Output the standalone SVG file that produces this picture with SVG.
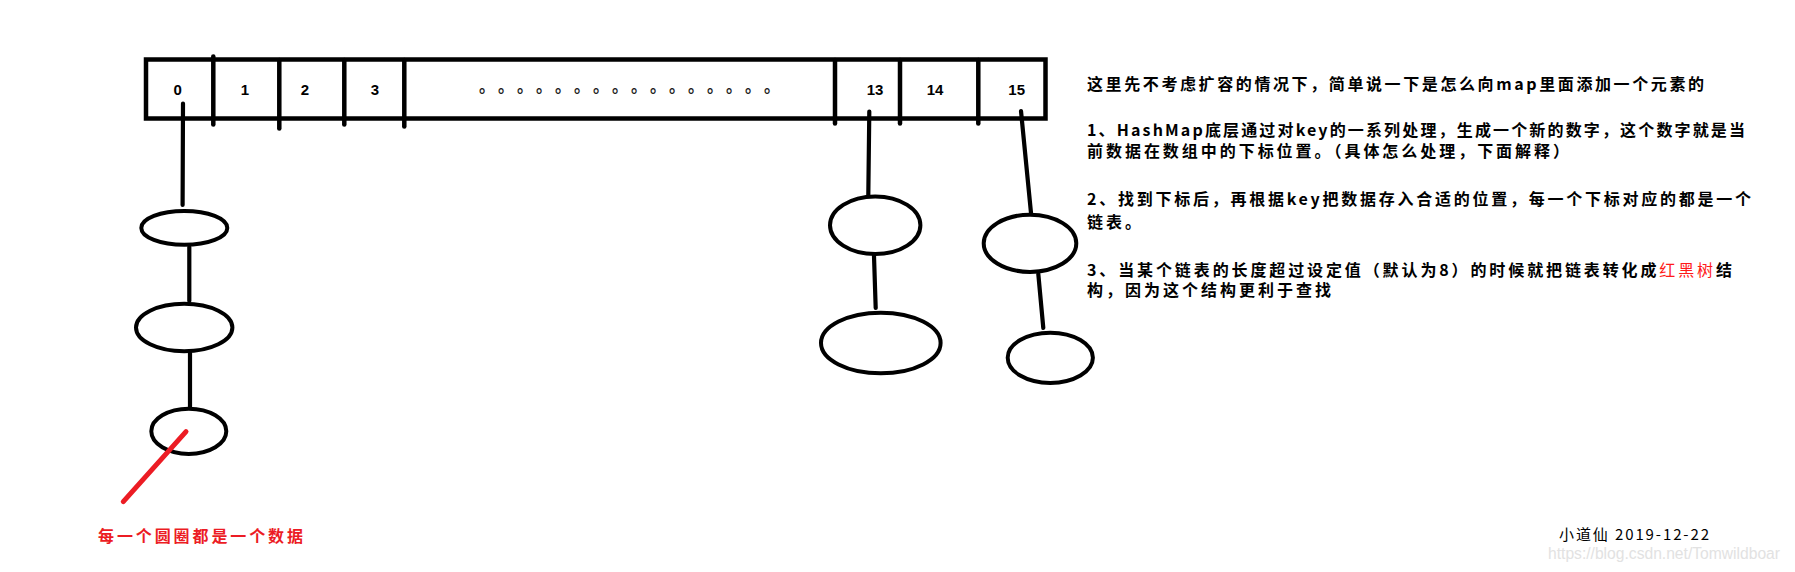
<svg xmlns="http://www.w3.org/2000/svg" width="1795" height="572" viewBox="0 0 1795 572">
<style>
.bx{fill:#fff;stroke:#000;stroke-width:4.5}
.dv{stroke:#000;stroke-width:4.5;stroke-linecap:round;fill:none}
.ln{stroke:#000;stroke-width:4.2;stroke-linecap:round;fill:none}
.el{fill:none;stroke:#000;stroke-width:4}
.num{font-family:"Liberation Sans",Arial,sans-serif;font-weight:bold;font-size:15px;fill:#000;text-anchor:middle}
.cn{font-family:"Noto Sans CJK SC","Noto Sans",sans-serif;font-weight:bold;font-size:16px;fill:#000}
.red{fill:#ff1a1a;font-weight:normal}
.note{font-family:"Noto Sans CJK SC","Noto Sans",sans-serif;font-weight:bold;font-size:16px;fill:#ec1c24}
.sig{font-family:"Noto Sans CJK SC","Noto Sans",sans-serif;font-size:15px;fill:#000}
.wm{font-family:"Liberation Sans",Arial,sans-serif;font-size:16px;fill:#e2e2e2}
.dots{font-family:"Noto Sans CJK SC",sans-serif;font-weight:bold;font-size:16px;fill:#222}
</style>
<rect width="1795" height="572" fill="#fff"/>
<g id="array">
  <rect class="bx" x="146" y="59.5" width="899.5" height="59"/>
  <line class="dv" x1="213.3" y1="56.5" x2="213.3" y2="124.5"/>
  <line class="dv" x1="279.3" y1="60" x2="279.3" y2="128.5"/>
  <line class="dv" x1="344.3" y1="60" x2="344.3" y2="124.5"/>
  <line class="dv" x1="404.3" y1="60" x2="404.3" y2="126.5"/>
  <line class="dv" x1="835" y1="60" x2="835" y2="123.5"/>
  <line class="dv" x1="900" y1="60" x2="900" y2="123.5"/>
  <line class="dv" x1="978.3" y1="60" x2="978.3" y2="123.5"/>
  <text class="num" x="177.7" y="94.5">0</text>
  <text class="num" x="245" y="94.5">1</text>
  <text class="num" x="305" y="94.5">2</text>
  <text class="num" x="375" y="94.5">3</text>
  <text class="dots" x="479.1 498.1 517.1 536.1 555.1 574.1 593.1 612.1 631.1 650.1 669.1 688.1 707.1 726.1 745.1 764.1" y="92">。。。。。。。。。。。。。。。。</text>
  <text class="num" x="875" y="94.5">13</text>
  <text class="num" x="935" y="94.5">14</text>
  <text class="num" x="1016.7" y="94.5">15</text>
</g>
<g id="node-0-1"><ellipse class="el" cx="184.3" cy="227.9" rx="43" ry="16.9"/></g>
<g id="node-0-2"><ellipse class="el" cx="184.2" cy="327.5" rx="48.2" ry="23.8"/></g>
<g id="node-0-3"><ellipse class="el" cx="188.8" cy="431.3" rx="37.5" ry="22.6"/></g>
<g id="node-13-1"><ellipse class="el" cx="875.2" cy="225.2" rx="45.2" ry="28.8"/></g>
<g id="node-13-2"><ellipse class="el" cx="880.8" cy="343" rx="59.8" ry="30.3"/></g>
<g id="node-15-1"><ellipse class="el" cx="1030" cy="243.3" rx="46.3" ry="28.6"/></g>
<g id="node-15-2"><ellipse class="el" cx="1050.3" cy="357.8" rx="42.6" ry="25.1"/></g>
<g id="connectors">
  <line class="ln" x1="183" y1="103.5" x2="182.6" y2="205"/>
  <line class="ln" x1="189.3" y1="247" x2="189.3" y2="301"/>
  <line class="ln" x1="190" y1="353" x2="190" y2="406.5"/>
  <line class="ln" x1="869.3" y1="111.5" x2="868.3" y2="195"/>
  <line class="ln" x1="874" y1="256" x2="875.7" y2="308"/>
  <line class="ln" x1="1021" y1="111" x2="1031" y2="213"/>
  <line class="ln" x1="1038.3" y1="274" x2="1043.3" y2="328"/>
  <line x1="186" y1="431.7" x2="123.3" y2="501.7" stroke="#ec1c24" stroke-width="5" stroke-linecap="round"/>
</g>
<g id="notes">
  <text class="cn" x="1087" y="90" textLength="617" lengthAdjust="spacing">这里先不考虑扩容的情况下，简单说一下是怎么向map里面添加一个元素的</text>
  <text class="cn" x="1087" y="136" textLength="658" lengthAdjust="spacing">1、HashMap底层通过对key的一系列处理，生成一个新的数字，这个数字就是当</text>
  <text class="cn" x="1087" y="156.7" textLength="482" lengthAdjust="spacing">前数据在数组中的下标位置。（具体怎么处理，下面解释）</text>
  <text class="cn" x="1087" y="205" textLength="664" lengthAdjust="spacing">2、找到下标后，再根据key把数据存入合适的位置，每一个下标对应的都是一个</text>
  <text class="cn" x="1087" y="227.7" letter-spacing="3">链表。</text>
  <text class="cn" x="1087" y="276" textLength="645" lengthAdjust="spacing">3、当某个链表的长度超过设定值（默认为8）的时候就把链表转化成<tspan class="red">红黑树</tspan>结</text>
  <text class="cn" x="1087" y="296" textLength="244" lengthAdjust="spacing">构，因为这个结构更利于查找</text>
</g>
<text class="note" x="98" y="542" textLength="205" lengthAdjust="spacing">每一个圆圈都是一个数据</text>
<text class="sig" x="1559" y="540" textLength="150" lengthAdjust="spacing">小道仙 2019-12-22</text>
<text class="wm" x="1548" y="559" textLength="232" lengthAdjust="spacingAndGlyphs">https://blog.csdn.net/Tomwildboar</text>
</svg>
